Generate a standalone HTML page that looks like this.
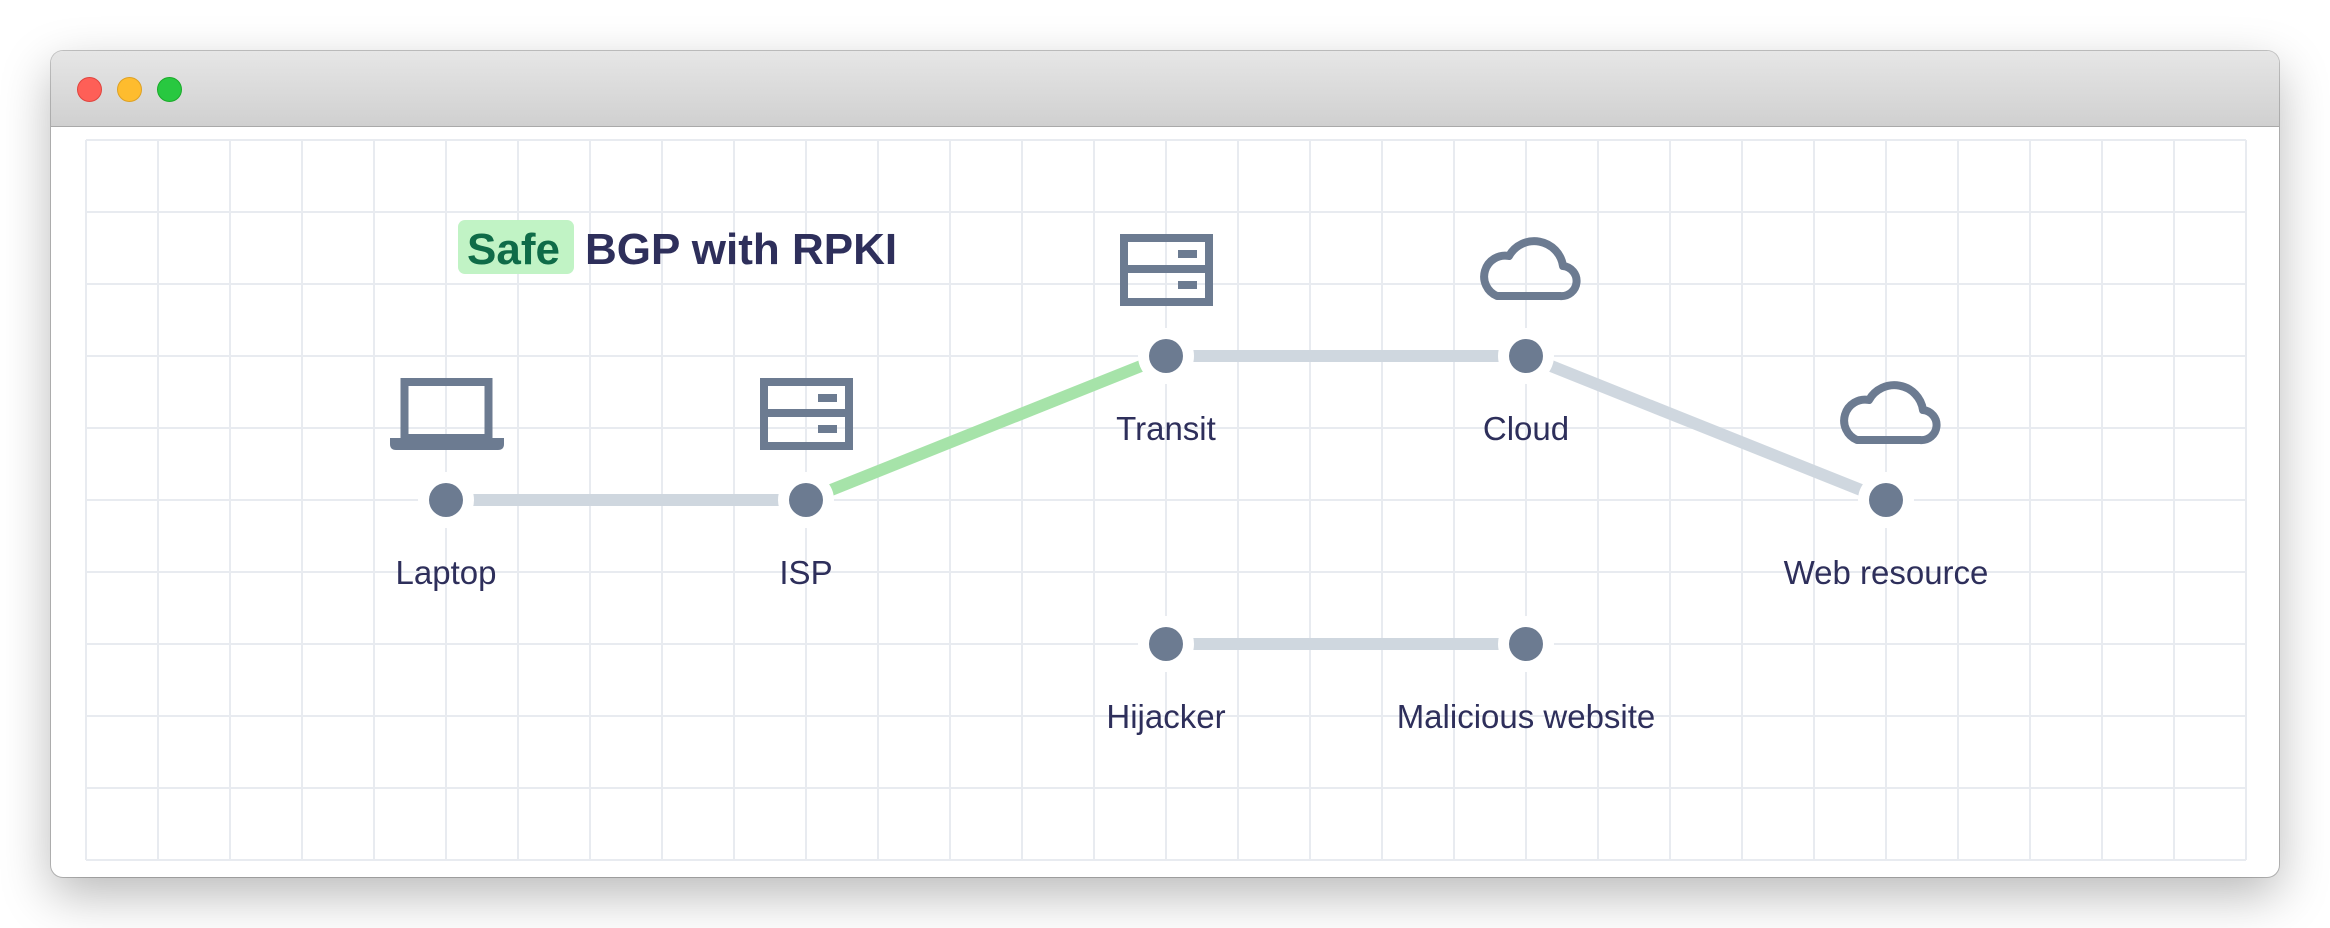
<!DOCTYPE html>
<html><head><meta charset="utf-8"><style>
html,body{margin:0;padding:0;background:#fff;width:2330px;height:928px;overflow:hidden}
.win{position:absolute;left:51px;top:51px;width:2228px;height:826px;border-radius:12px;background:#fff;box-shadow:0 18px 50px rgba(0,0,0,0.28),0 0 0 1px rgba(0,0,0,0.22);overflow:hidden}
.bar{position:absolute;left:0;top:0;right:0;height:75px;background:linear-gradient(#e6e6e6,#d0d0d0);border-bottom:1px solid #a9a9a9}
.tl{position:absolute;top:26px;width:23px;height:23px;border-radius:50%}
svg{position:absolute;left:0;top:0}
text{font-family:"Liberation Sans",sans-serif}
</style></head><body>
<div class="win"><div class="bar">
<div class="tl" style="left:26px;background:#fe5f57;border:0.5px solid #e0443e"></div>
<div class="tl" style="left:66px;background:#febc2e;border:0.5px solid #dea123"></div>
<div class="tl" style="left:106px;background:#28c840;border:0.5px solid #1aab29"></div>
</div></div>
<svg width="2330" height="928" viewBox="0 0 2330 928">
<g stroke="#e8ebf0" stroke-width="2">
<path d="M86 140V860M158 140V860M230 140V860M302 140V860M374 140V860M446 140V860M518 140V860M590 140V860M662 140V860M734 140V860M806 140V860M878 140V860M950 140V860M1022 140V860M1094 140V860M1166 140V860M1238 140V860M1310 140V860M1382 140V860M1454 140V860M1526 140V860M1598 140V860M1670 140V860M1742 140V860M1814 140V860M1886 140V860M1958 140V860M2030 140V860M2102 140V860M2174 140V860M2246 140V860"/>
<path d="M86 140H2246M86 212H2246M86 284H2246M86 356H2246M86 428H2246M86 500H2246M86 572H2246M86 644H2246M86 716H2246M86 788H2246M86 860H2246"/>
</g>
<g stroke-width="12" stroke-linecap="butt">
<line x1="446" y1="500" x2="806" y2="500" stroke="#cfd7df"/>
<line x1="806" y1="500" x2="1166" y2="356" stroke="#a6e3a9"/>
<line x1="1166" y1="356" x2="1526" y2="356" stroke="#cfd7df"/>
<line x1="1526" y1="356" x2="1886" y2="500" stroke="#cfd7df"/>
<line x1="1166" y1="644" x2="1526" y2="644" stroke="#cfd7df"/>
</g>
<g fill="#fff">
<circle cx="446" cy="500" r="28"/><circle cx="806" cy="500" r="28"/><circle cx="1166" cy="356" r="28"/><circle cx="1526" cy="356" r="28"/><circle cx="1886" cy="500" r="28"/><circle cx="1166" cy="644" r="28"/><circle cx="1526" cy="644" r="28"/>
</g>
<g fill="#6c7b91">
<circle cx="446" cy="500" r="17"/><circle cx="806" cy="500" r="17"/><circle cx="1166" cy="356" r="17"/><circle cx="1526" cy="356" r="17"/><circle cx="1886" cy="500" r="17"/><circle cx="1166" cy="644" r="17"/><circle cx="1526" cy="644" r="17"/>
</g>
<!-- laptop -->
<rect x="404.5" y="382" width="84" height="56" fill="none" stroke="#6c7b91" stroke-width="8"/>
<path d="M390 438H504V444Q504 450 498 450H396Q390 450 390 444Z" fill="#6c7b91"/>
<!-- servers -->
<g fill="none" stroke="#6c7b91" stroke-width="8">
<rect x="764" y="382" width="85" height="64"/><line x1="764" y1="413" x2="849" y2="413"/>
<rect x="1124" y="238" width="85" height="64"/><line x1="1124" y1="269" x2="1209" y2="269"/>
</g>
<g fill="#6c7b91">
<rect x="818" y="394" width="19" height="8"/><rect x="818" y="425" width="19" height="8"/>
<rect x="1178" y="250" width="19" height="8"/><rect x="1178" y="281" width="19" height="8"/>
</g>
<!-- clouds -->
<g fill="none" stroke="#6c7b91" stroke-width="8" stroke-linejoin="round">
<path d="M1497 296H1560A15 15 0 0 0 1563 266A29 29 0 0 0 1509 256A21 21 0 0 0 1497 296Z"/>
<path d="M1857 440H1920A15 15 0 0 0 1923 410A29 29 0 0 0 1869 400A21 21 0 0 0 1857 440Z"/>
</g>
<!-- title -->
<rect x="458" y="220" width="116" height="54" rx="7" fill="#c1f3c5"/>
<text x="467" y="264" font-size="44" font-weight="bold" fill="#0f6b48">Safe</text>
<text x="585" y="264" font-size="44" font-weight="bold" fill="#2e2f5b">BGP with RPKI</text>
<g font-size="33" fill="#2e2f5b" text-anchor="middle">
<text x="446" y="584">Laptop</text>
<text x="806" y="584">ISP</text>
<text x="1166" y="440">Transit</text>
<text x="1526" y="440">Cloud</text>
<text x="1886" y="584">Web resource</text>
<text x="1166" y="728">Hijacker</text>
<text x="1526" y="728">Malicious website</text>
</g>
</svg>
</body></html>
